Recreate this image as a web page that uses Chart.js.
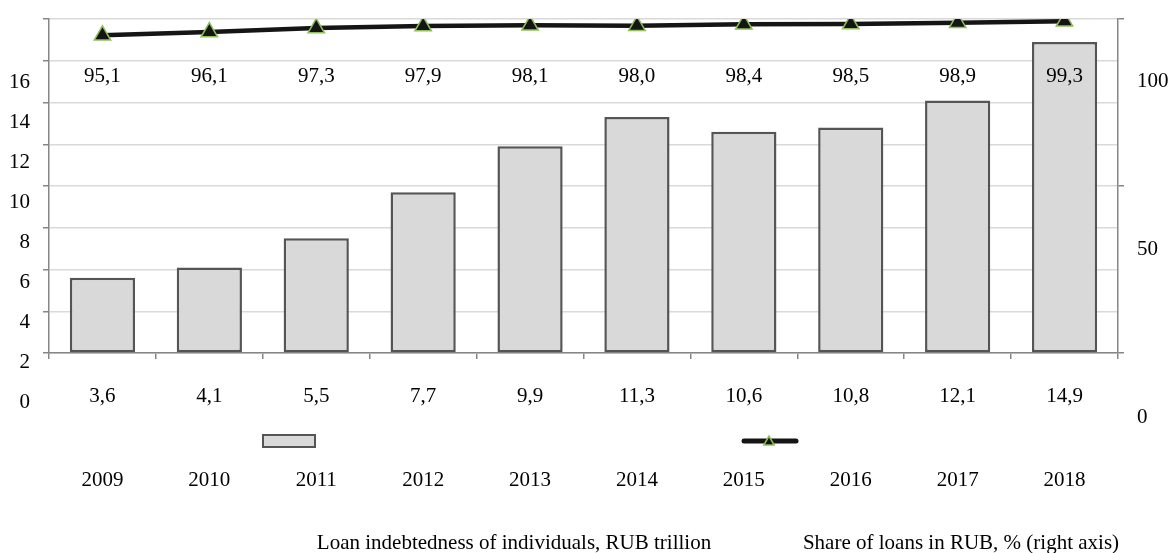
<!DOCTYPE html>
<html>
<head>
<meta charset="utf-8">
<script src="https://cdn.jsdelivr.net/npm/chart.js@4.4.1/dist/chart.umd.min.js"></script>
<style>
  html, body { margin: 0; padding: 0; background: #fff; }
</style>
</head>
<body>
<canvas id="loans" width="1171" height="553"></canvas>
<script>
const years = ['2009', '2010', '2011', '2012', '2013', '2014', '2015', '2016', '2017', '2018'];
const loanDebt = [3.6, 4.1, 5.5, 7.7, 9.9, 11.3, 10.6, 10.8, 12.1, 14.9];
const rubShare = [95.1, 96.1, 97.3, 97.9, 98.1, 98.0, 98.4, 98.5, 98.9, 99.3];
const leftTicks = [0, 2, 4, 6, 8, 10, 12, 14, 16];
const rightTicks = [0, 50, 100];
const debtLabel = 'Loan indebtedness of individuals, RUB trillion';
const shareLabel = 'Share of loans in RUB, % (right axis)';

const FONT = '"Liberation Serif", "Times New Roman", serif';
const AXIS_GREY = '#868686';
const GRID_GREY = '#d9d9d9';
const BAR_FILL = '#d9d9d9';
const BAR_EDGE = '#555555';
const LINE_COLOR = '#151515';
const MARKER_EDGE = '#8fbf5a';

Chart.defaults.font.family = FONT;
Chart.defaults.font.size = 21;
Chart.defaults.color = '#000';

function fmt(v) {
  return v.toFixed(1).replace('.', ',');
}

function triangle(ctx, x, y, r) {
  ctx.beginPath();
  ctx.moveTo(x, y - r);
  ctx.lineTo(x + r * 0.866, y + r * 0.5);
  ctx.lineTo(x - r * 0.866, y + r * 0.5);
  ctx.closePath();
}

// value rows above/below the plot + the split legend under the years
const annotate = {
  id: 'annotate',
  afterDraw(chart) {
    const { ctx, chartArea } = chart;
    ctx.save();
    ctx.font = '21px ' + FONT;
    ctx.fillStyle = '#000';
    ctx.textAlign = 'center';
    ctx.textBaseline = 'middle';

    chart.getDatasetMeta(1).data.forEach((bar, i) => {
      ctx.fillText(fmt(loanDebt[i]), bar.x, chartArea.bottom + 43);
    });
    chart.getDatasetMeta(0).data.forEach((pt, i) => {
      ctx.fillText(fmt(rubShare[i]), pt.x, chartArea.top + 57);
    });

    // legend: bar swatch
    ctx.fillStyle = BAR_FILL;
    ctx.strokeStyle = BAR_EDGE;
    ctx.lineWidth = 2;
    ctx.fillRect(263, 435, 52, 12);
    ctx.strokeRect(263, 435, 52, 12);

    // legend: line swatch with marker
    ctx.strokeStyle = LINE_COLOR;
    ctx.lineWidth = 5;
    ctx.lineCap = 'round';
    ctx.beginPath();
    ctx.moveTo(744, 441);
    ctx.lineTo(796, 441);
    ctx.stroke();
    triangle(ctx, 769, 442, 6);
    ctx.fillStyle = LINE_COLOR;
    ctx.fill();
    ctx.strokeStyle = MARKER_EDGE;
    ctx.lineWidth = 1.5;
    ctx.stroke();

    ctx.fillStyle = '#000';
    ctx.fillText(chart.data.datasets[1].label, 514, 543);
    ctx.fillText(chart.data.datasets[0].label, 961, 543);
    ctx.restore();
  }
};

// fixed box sizes, and no extra padding from label overhang
function fixedWidth(w) {
  return scale => {
    scale.width = w;
    scale.paddingTop = 0;
    scale.paddingBottom = 0;
  };
}

new Chart(document.getElementById('loans'), {
  data: {
    labels: years,
    datasets: [
      {
        type: 'line',
        label: shareLabel,
        data: rubShare,
        yAxisID: 'y1',
        order: 0,
        borderColor: LINE_COLOR,
        borderWidth: 4.5,
        tension: 0,
        pointStyle: 'triangle',
        pointRadius: 9.5,
        pointHoverRadius: 9.5,
        pointBackgroundColor: LINE_COLOR,
        pointBorderColor: MARKER_EDGE,
        pointBorderWidth: 1.5,
      },
      {
        type: 'bar',
        label: debtLabel,
        data: loanDebt,
        yAxisID: 'y',
        order: 1,
        backgroundColor: BAR_FILL,
        borderColor: BAR_EDGE,
        borderWidth: 2.5,
        borderSkipped: false,
        categoryPercentage: 1,
        barPercentage: 0.61,
      },
    ],
  },
  options: {
    responsive: false,
    animation: false,
    layout: { autoPadding: false, padding: { top: 19, left: 0, right: 0, bottom: 0 } },
    plugins: {
      legend: { display: false },
      tooltip: { enabled: false },
    },
    scales: {
      x: {
        grid: {
          offset: true,
          drawOnChartArea: false,
          tickLength: 6,
          tickColor: AXIS_GREY,
          lineWidth: 1.5,
        },
        border: { color: AXIS_GREY, width: 1.5 },
        ticks: { padding: 109, autoSkip: false, maxRotation: 0 },
        afterFit: scale => {
          scale.height = 200;
          scale.paddingLeft = 0;
          scale.paddingRight = 0;
        },
      },
      y: {
        position: 'left',
        weight: 0,
        min: 0,
        max: 16,
        ticks: { display: false, stepSize: 2 },
        grid: { color: GRID_GREY, lineWidth: 1.5, tickLength: 6, tickColor: AXIS_GREY },
        border: { color: AXIS_GREY, width: 1.5 },
        afterFit: fixedWidth(8),
      },
      // tick labels for the left axis, set lower than the grid
      yl: {
        position: 'left',
        weight: 1,
        min: 2.49,
        max: 19.14,
        grid: { display: false },
        border: { display: false },
        ticks: { padding: 3, autoSkip: false },
        afterBuildTicks: scale => { scale.ticks = leftTicks.map(v => ({ value: v })); },
        afterFit: fixedWidth(41),
      },
      y1: {
        position: 'right',
        weight: 0,
        min: 0,
        max: 100,
        ticks: { display: false, stepSize: 50 },
        grid: { drawOnChartArea: false, tickLength: 6, tickColor: AXIS_GREY, lineWidth: 1.5 },
        border: { color: AXIS_GREY, width: 1.5 },
        afterFit: fixedWidth(8),
      },
      // tick labels for the right axis
      yr: {
        position: 'right',
        weight: 1,
        min: 19.1,
        max: 118.8,
        grid: { display: false },
        border: { display: false },
        ticks: { padding: 3, autoSkip: false },
        afterBuildTicks: scale => { scale.ticks = rightTicks.map(v => ({ value: v })); },
        afterFit: fixedWidth(45),
      },
    },
  },
  plugins: [annotate],
});
</script>
</body>
</html>
